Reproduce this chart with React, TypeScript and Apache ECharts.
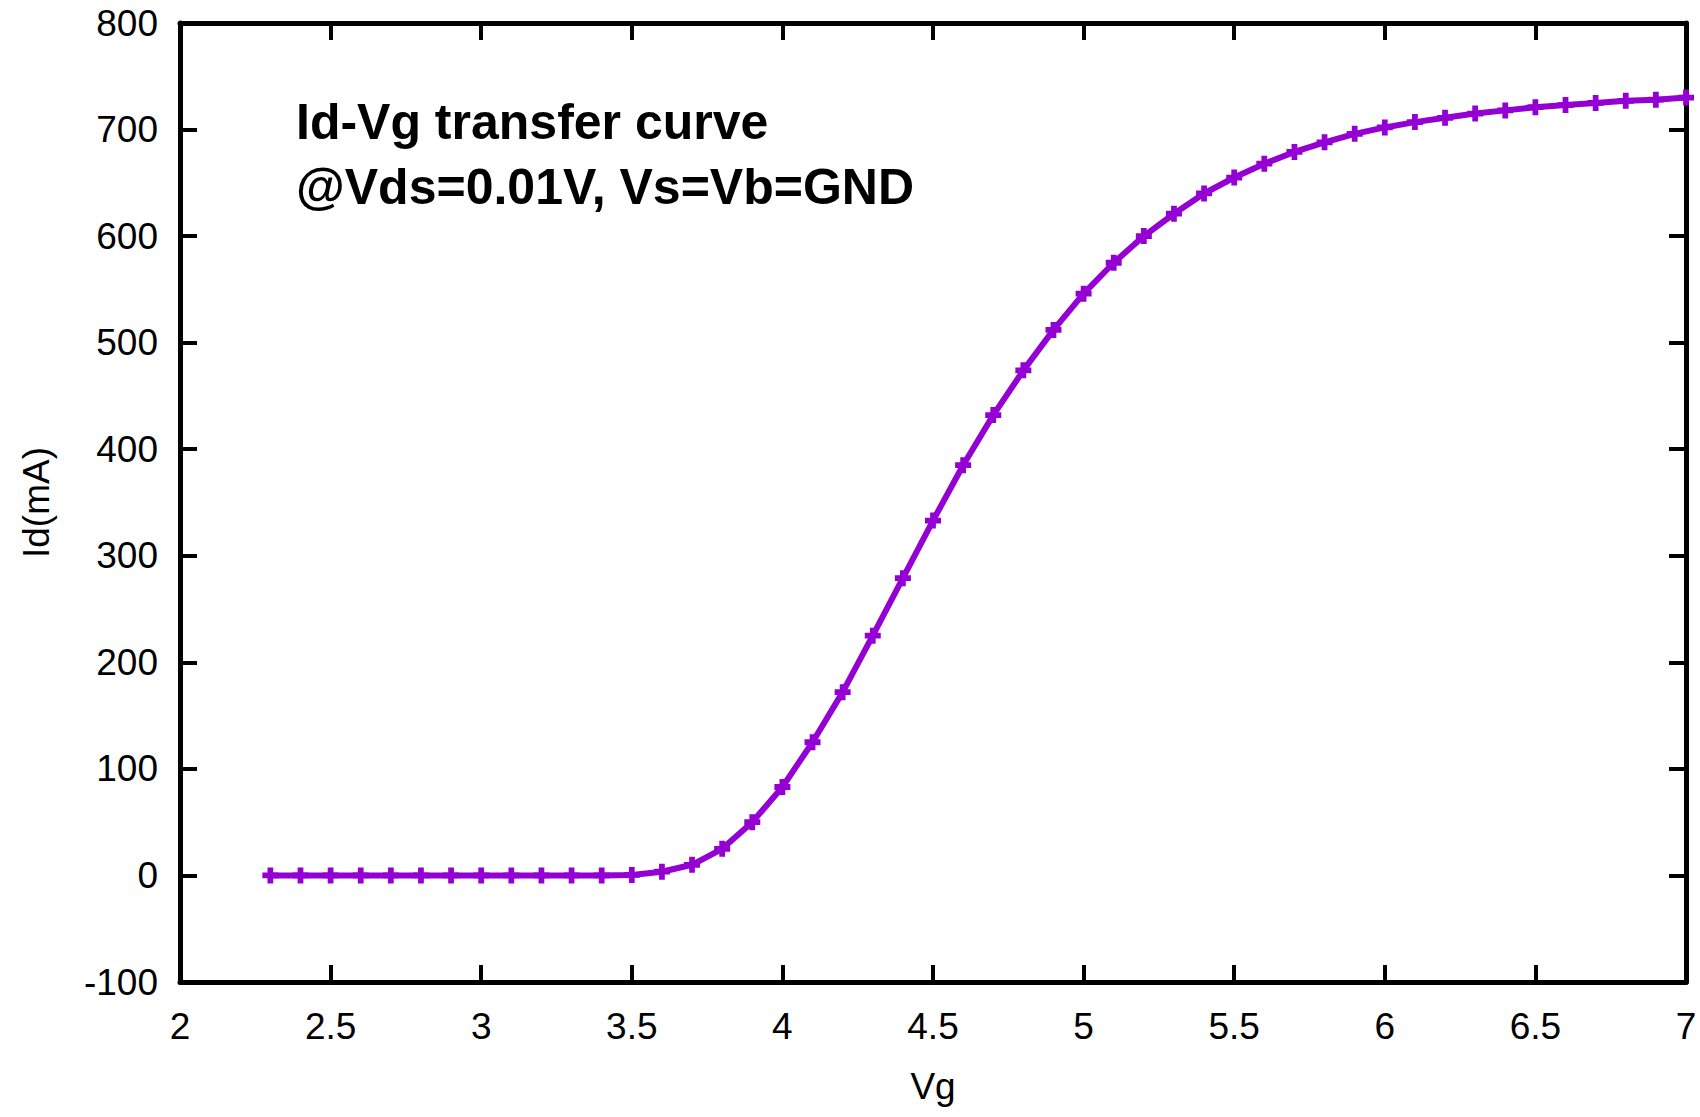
import React, { useEffect, useRef } from "react";
import * as echarts from "echarts";

const vgValues: number[] = [
  2.3, 2.4, 2.5, 2.6, 2.7, 2.8, 2.9, 3.0, 3.1, 3.2, 3.3, 3.4, 3.5, 3.6, 3.7, 3.8,
  3.9, 4.0, 4.1, 4.2, 4.3, 4.4, 4.5, 4.6, 4.7, 4.8, 4.9, 5.0, 5.1, 5.2, 5.3, 5.4,
  5.5, 5.6, 5.7, 5.8, 5.9, 6.0, 6.1, 6.2, 6.3, 6.4, 6.5, 6.6, 6.7, 6.8, 6.9, 7.0,
];
const idValues: number[] = [
  0, 0, 0, 0, 0, 0, 0, 0, 0, 0, 0, 0, 0.5, 3.5, 10, 25,
  50, 83, 125, 172, 225, 279, 333, 385, 432, 474, 512, 546, 575, 600, 621, 640,
  655, 668, 679, 688, 696, 702, 707, 711, 715, 718, 721, 723, 725, 727, 728, 730,
];
const xTicks = { min: 2, max: 7, interval: 0.5 };
const yTicks = { min: -100, max: 800, interval: 100 };
const titleLines = ["Id-Vg transfer curve", "@Vds=0.01V, Vs=Vb=GND"];
const xName = "Vg";
const yName = "Id(mA)";

const FONT = "Liberation Sans, Arial, sans-serif";
const PURPLE = "#9400D3";
const PLUS = "path://M3.2,0H6.8V3.2H10V6.8H6.8V10H3.2V6.8H0V3.2H3.2Z";

export default function App() {
  const ref = useRef<HTMLDivElement>(null);
  useEffect(() => {
    if (!ref.current) return;
    const chart = echarts.init(ref.current, undefined, { renderer: "svg" });
    const axisLine = { show: true, onZero: false, lineStyle: { color: "#000", width: 5 } };
    const axisTick = { show: true, inside: true, length: 17, lineStyle: { color: "#000", width: 4 } };
    const label = { color: "#000", fontSize: 37, fontFamily: FONT };
    chart.setOption({
      animation: false,
      backgroundColor: "#fff",
      grid: { left: 180, right: 14, top: 23, bottom: 135, containLabel: false },
      xAxis: [
        {
          type: "value",
          position: "bottom",
          ...xTicks,
          name: xName,
          nameLocation: "middle",
          nameGap: 86,
          nameTextStyle: { color: "#000", fontSize: 37, fontFamily: FONT },
          axisLine,
          axisTick,
          splitLine: { show: false },
          axisLabel: { ...label, margin: 26 },
        },
        {
          type: "value",
          position: "top",
          ...xTicks,
          axisLine,
          axisTick,
          splitLine: { show: false },
          axisLabel: { show: false },
        },
      ],
      yAxis: [
        {
          type: "value",
          position: "left",
          ...yTicks,
          name: yName,
          nameLocation: "middle",
          nameGap: 125,
          nameTextStyle: { color: "#000", fontSize: 37, fontFamily: FONT },
          axisLine,
          axisTick,
          splitLine: { show: false },
          axisLabel: { ...label, margin: 22 },
        },
        {
          type: "value",
          position: "right",
          ...yTicks,
          axisLine,
          axisTick,
          splitLine: { show: false },
          axisLabel: { show: false },
        },
      ],
      series: [
        {
          type: "line",
          xAxisIndex: 0,
          yAxisIndex: 0,
          data: vgValues.map((v, i) => [v, idValues[i]]),
          lineStyle: { color: PURPLE, width: 6 },
          itemStyle: { color: PURPLE },
          symbol: PLUS,
          symbolSize: 16,
          showSymbol: true,
          clip: false,
          z: 1,
        },
      ],
      graphic: [
        {
          type: "text",
          left: 296,
          top: 97,
          style: {
            text: titleLines[0],
            fill: "#000",
            font: `bold 50px ${FONT}`,
          },
        },
        {
          type: "text",
          left: 296,
          top: 162,
          style: {
            text: titleLines[1],
            fill: "#000",
            font: `bold 50px ${FONT}`,
          },
        },
      ],
    });
    return () => chart.dispose();
  }, []);
  return <div ref={ref} style={{ position: "fixed", left: 0, top: 0, width: 1700, height: 1117 }} />;
}
